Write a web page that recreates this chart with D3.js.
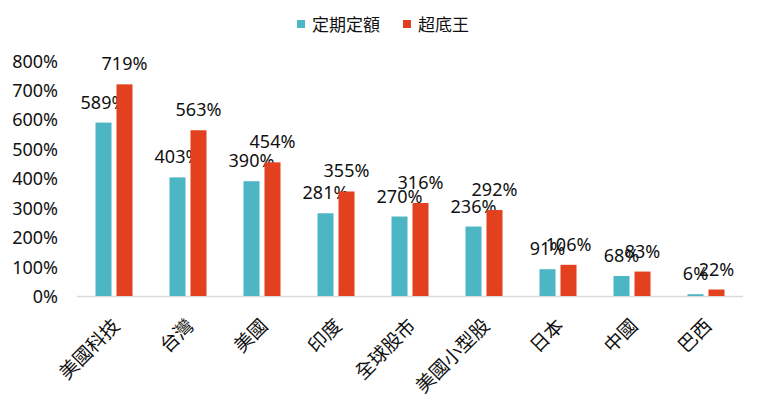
<!DOCTYPE html>
<html><head><meta charset="utf-8">
<script src="https://cdn.jsdelivr.net/npm/d3@7/dist/d3.min.js"></script>
<style>body{margin:0;background:#fff}svg{display:block}text{font-family:"Noto Sans","Noto Sans CJK TC",sans-serif;fill:#111}</style>
</head><body><svg id="c" width="760" height="404"></svg>
<script>
const categories = ["美國科技","台灣","美國","印度","全球股市","美國小型股","日本","中國","巴西"];
const seriesNames = ["定期定額","超底王"];
const regular = [589,403,390,281,270,236,91,68,6];
const superLow = [719,563,454,355,316,292,106,83,22];
const yTicks = [0,100,200,300,400,500,600,700,800];
const colors = ["#4db6c5","#e2401f"];

const svg = d3.select("#c");
const x = d3.scaleBand().domain(categories).range([77,743]);
const y = d3.scaleLinear().domain([0,800]).range([296,60.5]);
const barW = 16, gap = 5;
const sub = d3.scaleOrdinal().domain([0,1]).range([-(gap/2+barW), gap/2]);

// y tick labels
svg.append("g").selectAll("text").data(yTicks).join("text")
  .attr("x",58).attr("y",d=>y(d)).attr("text-anchor","end")
  .attr("dominant-baseline","central").attr("font-size",18)
  .text(d=>d+"%");

// axis line
svg.append("line").attr("x1",77).attr("x2",743).attr("y1",y(0)+0.5).attr("y2",y(0)+0.5)
  .attr("stroke","#d9d9d9").attr("stroke-width",1.5);

const series = [regular, superLow];
series.forEach((vals,si)=>{
  const g = svg.append("g");
  g.selectAll("rect").data(vals).join("rect")
    .attr("x",(d,i)=>x(categories[i])+x.bandwidth()/2+sub(si))
    .attr("y",d=>y(d)).attr("width",barW).attr("height",d=>y(0)-y(d))
    .attr("fill",colors[si]);
  g.selectAll("text").data(vals).join("text")
    .attr("x",(d,i)=>x(categories[i])+x.bandwidth()/2+sub(si)+barW/2)
    .attr("y",d=>y(d)-14).attr("text-anchor","middle").attr("font-size",18)
    .text(d=>d+"%");
});

// category labels
svg.append("g").selectAll("text").data(categories).join("text")
  .attr("transform",d=>`translate(${x(d)+x.bandwidth()/2+2},${y(0)+26}) rotate(-45)`)
  .attr("text-anchor","end").attr("dominant-baseline","central").attr("font-size",19)
  .text(d=>d);

// legend
const leg = svg.append("g");
const legX = [297,403];
seriesNames.forEach((n,i)=>{
  leg.append("rect").attr("x",legX[i]).attr("y",20).attr("width",8).attr("height",8).attr("fill",colors[i]);
  leg.append("text").attr("x",legX[i]+15).attr("y",24).attr("dominant-baseline","central")
    .attr("font-size",17).text(n);
});
</script></body></html>
